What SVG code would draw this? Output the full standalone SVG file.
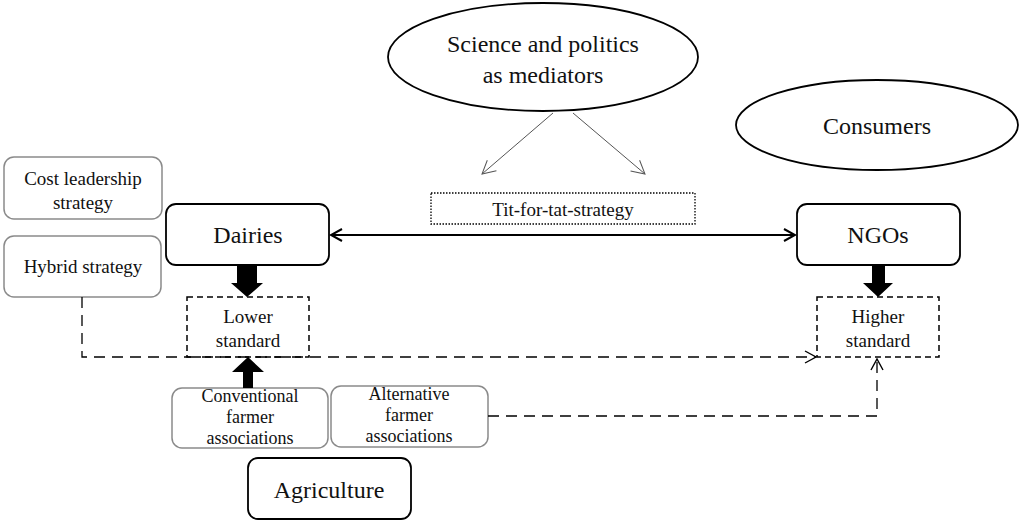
<svg xmlns="http://www.w3.org/2000/svg" width="1022" height="523" viewBox="0 0 1022 523" font-family="'Liberation Serif', 'Times New Roman', Times, 'DejaVu Serif', serif">
<style>
text{font-family:'Liberation Serif','Times New Roman',Times,'DejaVu Serif',serif;fill:#111;text-anchor:middle}
.gray{fill:#fff;stroke:#8a8a8a;stroke-width:1.5}
.blk{fill:#fff;stroke:#000;stroke-width:1.8}
.dash{fill:none;stroke:#000;stroke-width:1.5;stroke-dasharray:6,4}
.dline{fill:none;stroke:#000;stroke-width:1.3;stroke-dasharray:11,7}
.t18{font-size:18px}.t19{font-size:19px}.t24{font-size:24px}
</style>
<defs>
<marker id="open" markerWidth="14" markerHeight="14" refX="12" refY="7" orient="auto" markerUnits="userSpaceOnUse">
<path d="M1,1 L12,7 L1,13" fill="none" stroke="#000" stroke-width="1.4"/>
</marker>
<marker id="openG" markerWidth="16" markerHeight="16" refX="14" refY="8" orient="auto" markerUnits="userSpaceOnUse">
<path d="M1,1 L14,8 L1,15" fill="none" stroke="#555" stroke-width="1"/>
</marker>
<marker id="arrB" markerWidth="14" markerHeight="14" refX="12" refY="7" orient="auto" markerUnits="userSpaceOnUse">
<path d="M1,1 L12,7 L1,13" fill="none" stroke="#000" stroke-width="2"/>
</marker>
<marker id="arrS" markerWidth="14" markerHeight="14" refX="2" refY="7" orient="auto" markerUnits="userSpaceOnUse">
<path d="M13,1 L2,7 L13,13" fill="none" stroke="#000" stroke-width="2"/>
</marker>
</defs>
<rect width="1022" height="523" fill="#fff"/>

<g id="science">
<ellipse cx="543" cy="57" rx="155" ry="54" fill="#fff" stroke="#000" stroke-width="1.8"/>
<text x="543" y="52" class="t24">Science and politics</text>
<text x="543" y="83" class="t24">as mediators</text>
</g>
<g id="consumers">
<ellipse cx="877" cy="125" rx="141" ry="45" fill="#fff" stroke="#000" stroke-width="1.8"/>
<text x="877" y="134" class="t24">Consumers</text>
</g>
<g id="tit-for-tat">
<rect x="431" y="193" width="264" height="31" fill="#fff" stroke="#000" stroke-width="1.3" stroke-dasharray="1.5,1.5"/>
<text x="563" y="216" class="t19">Tit-for-tat-strategy</text>
</g>
<g id="cost">
<rect x="4" y="157" width="158" height="62" rx="10" class="gray"/>
<text x="83" y="185" class="t19">Cost leadership</text>
<text x="83" y="209" class="t19">strategy</text>
</g>
<g id="hybrid">
<rect x="4" y="236" width="157" height="61" rx="10" class="gray"/>
<text x="83" y="273" class="t19">Hybrid strategy</text>
</g>
<g id="dairies">
<rect x="166" y="204" width="163" height="61" rx="10" class="blk"/>
<text x="248" y="243" class="t24">Dairies</text>
</g>
<g id="ngos">
<rect x="797" y="204" width="163" height="61" rx="10" class="blk"/>
<text x="878" y="243" class="t24">NGOs</text>
</g>
<g id="lower">
<rect x="187" y="297" width="122" height="60" class="dash"/>
<text x="248" y="323" class="t19">Lower</text>
<text x="248" y="347" class="t19">standard</text>
</g>
<g id="higher">
<rect x="817" y="297" width="122" height="60" class="dash"/>
<text x="878" y="323" class="t19">Higher</text>
<text x="878" y="347" class="t19">standard</text>
</g>
<g id="conventional">
<rect x="172" y="388" width="156" height="60" rx="10" class="gray"/>
<text x="250" y="402" class="t18">Conventional</text>
<text x="250" y="423" class="t18">farmer</text>
<text x="250" y="444" class="t18">associations</text>
</g>
<g id="alternative">
<rect x="331" y="386" width="157" height="61" rx="10" class="gray"/>
<text x="409" y="400" class="t18">Alternative</text>
<text x="409" y="421" class="t18">farmer</text>
<text x="409" y="442" class="t18">associations</text>
</g>
<g id="agriculture">
<rect x="248" y="458" width="163" height="61" rx="10" class="blk"/>
<text x="329" y="498" class="t24">Agriculture</text>
</g>

<g id="connectors">
<line x1="553" y1="113" x2="482" y2="174" stroke="#555" stroke-width="1" marker-end="url(#openG)"/>
<line x1="573" y1="113" x2="645" y2="174" stroke="#555" stroke-width="1" marker-end="url(#openG)"/>
<line x1="331" y1="235" x2="795" y2="235" stroke="#000" stroke-width="2" marker-start="url(#arrS)" marker-end="url(#arrB)"/>
<polygon points="237,265 257,265 257,283 263,283 247,297 231,283 237,283" fill="#000"/>
<polygon points="872,265 885,265 885,283 893,283 878,297 863,283 872,283" fill="#000"/>
<polygon points="243,388 253,388 253,372 264,372 248,357 232,372 243,372" fill="#000"/>
<polyline points="82,297 82,357 816,357" class="dline" marker-end="url(#open)"/>
<polyline points="488,416 877,416 877,359" class="dline" marker-end="url(#open)"/>
</g>
</svg>
